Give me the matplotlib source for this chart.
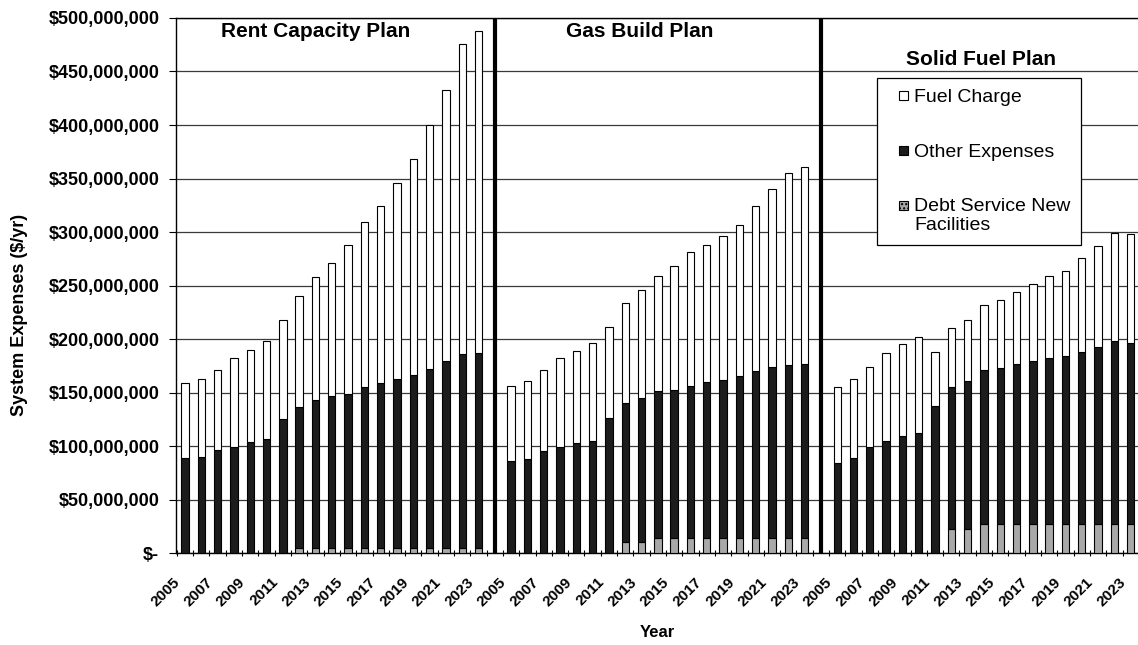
import matplotlib
matplotlib.use("Agg")
import matplotlib.pyplot as plt
import matplotlib.transforms as mtrans
from matplotlib.patches import Patch, Rectangle
from matplotlib.legend_handler import HandlerPatch
from matplotlib.ticker import FuncFormatter, MultipleLocator
import numpy as np

plt.rcParams['font.family'] = ['Liberation Sans', 'DejaVu Sans']

years = list(range(2005, 2024))
plans = ["Rent Capacity Plan", "Gas Build Plan", "Solid Fuel Plan"]

# $ millions per year
rent_debt = [0, 0, 0, 0, 0, 0, 0, 5, 5, 5, 5, 5, 5, 5, 5, 5, 5, 5, 5]
rent_other = [89, 90, 96, 99, 104, 107, 125, 131, 138, 142, 144, 150, 154, 158, 161, 167, 174, 181, 182]
rent_fuel = [70, 73, 75, 83, 86, 91, 93, 104, 115, 124, 139, 154, 165, 183, 202, 228, 254, 290, 301]

gas_debt = [0, 0, 0, 0, 0, 0, 0, 10, 10, 14, 14, 14, 14, 14, 14, 14, 14, 14, 14]
gas_other = [86, 88, 95, 99, 103, 105, 126, 130, 135, 137, 138, 142, 146, 148, 151, 156, 160, 162, 163]
gas_fuel = [70, 73, 76, 83, 86, 91, 85, 94, 101, 108, 116, 125, 128, 134, 142, 154, 166, 179, 184]

solid_debt = [0, 0, 0, 0, 0, 0, 0, 22, 22, 27, 27, 27, 27, 27, 27, 27, 27, 27, 27]
solid_other = [84, 89, 99, 105, 109, 112, 137, 133, 139, 144, 146, 150, 152, 155, 157, 161, 166, 171, 169]
solid_fuel = [71, 74, 75, 82, 86, 90, 51, 55, 57, 61, 63, 67, 72, 77, 80, 88, 94, 101, 102]

debt = [rent_debt, gas_debt, solid_debt]
other = [rent_other, gas_other, solid_other]
fuel = [rent_fuel, gas_fuel, solid_fuel]

title_pos = [(8.0, 487), (7.9, 487), (8.8, 461)]

c_debt = '#a8a8a8'
c_other = '#1c1c1c'

fig = plt.figure(figsize=(11.38, 6.45), dpi=100)
ax = fig.add_axes([0.1547, 0.1426, 0.8453, 0.8295])

n = len(years)
step = n + 1
w = 0.45
for p in range(3):
    x = np.arange(n) + p * step
    d = np.array(debt[p]) * 1e6
    o = np.array(other[p]) * 1e6
    f = np.array(fuel[p]) * 1e6
    ax.bar(x, d, w, color=c_debt, edgecolor='black', lw=0.8, zorder=3)
    ax.bar(x, o, w, bottom=d, color=c_other, edgecolor='black', lw=0.8, zorder=3)
    ax.bar(x, f, w, bottom=d + o, color='white', edgecolor='black', lw=0.8, zorder=3)
    tx, ty = title_pos[p]
    ax.text(p * step + tx, ty * 1e6, plans[p], ha='center', va='center',
            fontsize=15, fontweight='bold', zorder=5)
    if p > 0:
        ax.axvline(p * step - 1, color='black', lw=3, zorder=4)

ax.yaxis.set_major_locator(MultipleLocator(50e6))
ax.yaxis.set_major_formatter(FuncFormatter(lambda v, _: "$-" if v == 0 else "${:,.0f}".format(v)))
ax.grid(axis='y', color='#3a3a3a', lw=0.9, zorder=0)

ticks = [p * step + i for p in range(3) for i in range(0, n, 2)]
labels = [str(years[i]) for p in range(3) for i in range(0, n, 2)]
ax.set_xticks(ticks)
ax.set_xticklabels(labels, rotation=45, ha='right', rotation_mode='anchor',
                   fontsize=11, fontweight='bold')
ax.set_xticks(np.arange(-0.5, 3 * step - 1, 1), minor=True)
ax.set_xlim(-0.55, 3 * step - 1.55)
ax.set_ylim(0, 500e6)
ax.tick_params(axis='x', which='major', length=0, pad=16)
ax.tick_params(axis='x', which='minor', length=5, direction='inout', width=0.8)
ax.tick_params(axis='y', length=5, width=0.8, labelsize=13, pad=7)
for lab in ax.get_yticklabels():
    lab.set_fontweight('bold')

# year labels sit a little left of their bar, like the Excel original
shift = mtrans.ScaledTranslation(-12 / 100, 0, fig.dpi_scale_trans)
for lab in ax.get_xticklabels():
    lab.set_transform(lab.get_transform() + shift)

ax.spines['right'].set_visible(False)
for s in ['left', 'bottom', 'top']:
    ax.spines[s].set_linewidth(1.0)

ax.set_ylabel("System Expenses ($/yr)", fontsize=13, fontweight='bold')
ax.yaxis.set_label_coords(-0.154, 0.445)
ax.set_xlabel("Year", fontsize=12, fontweight='bold')
ax.xaxis.set_label_coords(0.5, -0.134)


def small_square(legend, orig_handle, xdescent, ydescent, width, height, fontsize):
    s = 9 * 72 / 100
    y = -ydescent + (height - s) / 2
    if orig_handle.get_gid() == 'two_line':
        y += 0.55 * fontsize
    return Rectangle((width - xdescent - s, y), s, s)


handles = [Patch(facecolor='white', edgecolor='black', lw=0.8),
           Patch(facecolor=c_other, edgecolor='black', lw=0.8),
           Patch(facecolor=c_debt, edgecolor='black', lw=0.8, hatch='....', gid='two_line')]
names = ["Fuel Charge", "Other Expenses", "Debt Service New\nFacilities"]
leg = ax.legend(handles, names, loc='upper left', bbox_to_anchor=(0.7287, 0.8879),
                fontsize=14, frameon=True, fancybox=False, framealpha=1,
                edgecolor='black', labelspacing=1.9, handlelength=1.05,
                handleheight=0.7, handletextpad=0.3, borderpad=0.55,
                borderaxespad=0,
                handler_map={Patch: HandlerPatch(patch_func=small_square)})
leg.get_frame().set_linewidth(0.9)
leg.set_zorder(6)

fig.savefig("out.png", dpi=100, facecolor='white')
